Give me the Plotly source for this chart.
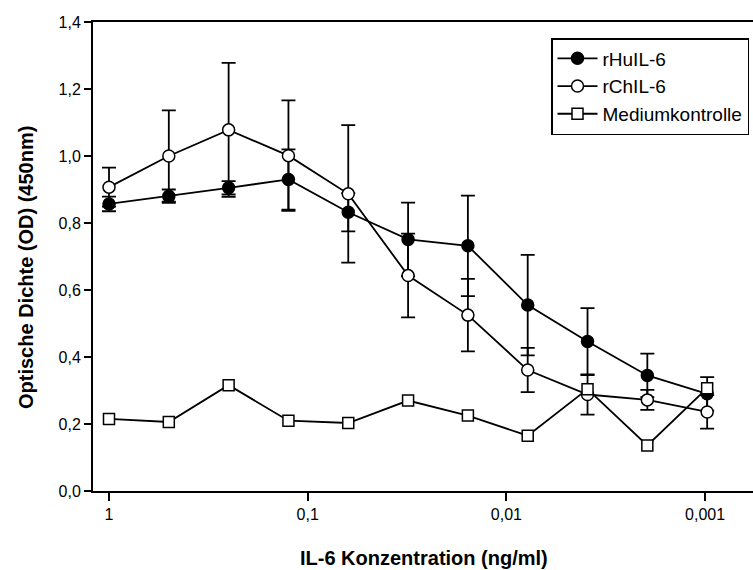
import plotly.graph_objects as go

conc = [1, 0.5, 0.25, 0.125, 0.0625, 0.03125, 0.015625, 0.0078125, 0.00390625, 0.001953125, 0.0009765625]
hu_vals = [0.857, 0.880, 0.905, 0.930, 0.832, 0.751, 0.732, 0.555, 0.446, 0.345, 0.290]
hu_err = [0.022, 0.020, 0.020, 0.090, 0.057, 0.110, 0.150, 0.150, 0.100, 0.065, 0.050]
ch_vals = [0.907, 1.000, 1.078, 1.001, 0.887, 0.643, 0.525, 0.361, 0.288, 0.272, 0.236]
ch_err = [0.058, 0.136, 0.200, 0.165, 0.205, 0.125, 0.108, 0.066, 0.060, 0.030, 0.050]
med_vals = [0.215, 0.206, 0.316, 0.210, 0.203, 0.270, 0.225, 0.165, 0.304, 0.136, 0.307]

x_tickvals = [1, 0.1, 0.01, 0.001]
x_ticktext = ["1", "0,1", "0,01", "0,001"]

W, H = 753, 570
L, R, T, B = 93, 0, 22, 79

fig = go.Figure()
fig.add_trace(go.Scatter(
    x=conc, y=hu_vals, name="rHuIL-6", mode="lines+markers",
    line=dict(color="black", width=1.8),
    marker=dict(symbol="circle", size=12, color="black", line=dict(color="black", width=1.5)),
    error_y=dict(type="data", array=hu_err, visible=True, color="black", thickness=1.8, width=7),
))
fig.add_trace(go.Scatter(
    x=conc, y=ch_vals, name="rChIL-6", mode="lines+markers",
    line=dict(color="black", width=1.8),
    marker=dict(symbol="circle", size=12, color="white", line=dict(color="black", width=1.5)),
    error_y=dict(type="data", array=ch_err, visible=True, color="black", thickness=1.8, width=7),
))
fig.add_trace(go.Scatter(
    x=conc, y=med_vals, name="Mediumkontrolle", mode="lines+markers",
    line=dict(color="black", width=1.8),
    marker=dict(symbol="square", size=11, color="white", line=dict(color="black", width=1.5)),
))

font_family = "Liberation Sans, Arial, sans-serif"
fig.update_layout(
    width=W, height=H,
    margin=dict(l=L, r=R, t=T, b=B, autoexpand=False),
    paper_bgcolor="white", plot_bgcolor="white",
    separators=",.",
    font=dict(family=font_family, size=16, color="black"),
    showlegend=True,
    legend=dict(
        x=(749 - L) / (W - L - R), xanchor="right",
        y=(H - B - 38) / (H - T - B), yanchor="top",
        bordercolor="black", borderwidth=1.5, bgcolor="white",
        font=dict(family=font_family, size=19, color="black"),
        tracegroupgap=0, itemwidth=40,
    ),
    xaxis=dict(
        type="log", range=[0.0805, -3.241],
        tickvals=x_tickvals, ticktext=x_ticktext,
        showgrid=False, zeroline=False,
        showline=True, linecolor="black", linewidth=2, mirror=True,
        ticks="outside", ticklen=8, tickwidth=1.5, tickcolor="black",
        tickfont=dict(size=16),
    ),
    yaxis=dict(
        range=[0, 1.4], tickvals=[0, 0.2, 0.4, 0.6, 0.8, 1.0, 1.2, 1.4],
        tickformat=".1f",
        showgrid=False, zeroline=False,
        showline=True, linecolor="black", linewidth=2, mirror=False,
        ticks="outside", ticklen=7, tickwidth=1.5, tickcolor="black",
        tickfont=dict(size=16),
    ),
    annotations=[
        dict(text="<b>IL-6 Konzentration (ng/ml)</b>", xref="paper", yref="paper",
             x=(424 - L) / (W - L - R), y=-(558 - (H - B)) / (H - T - B),
             xanchor="center", yanchor="middle", showarrow=False,
             font=dict(size=20, family=font_family)),
        dict(text="<b>Optische Dichte (OD) (450nm)</b>", xref="paper", yref="paper",
             x=-(L - 26) / (W - L - R), y=(H - B - 268) / (H - T - B),
             xanchor="center", yanchor="middle", showarrow=False, textangle=-90,
             font=dict(size=20, family=font_family)),
    ],
)

fig.write_html("out.html")
